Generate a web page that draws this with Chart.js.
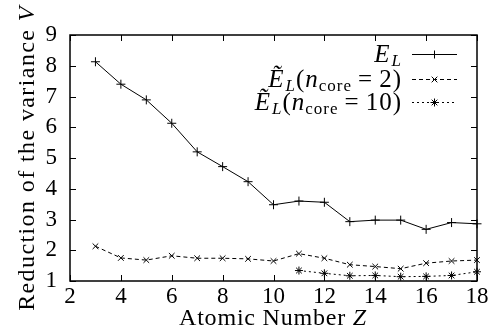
<!DOCTYPE html>
<html>
<head>
<meta charset="utf-8">
<script src="https://cdn.jsdelivr.net/npm/chart.js@4/dist/chart.umd.min.js"></script>
<style>
html,body{margin:0;padding:0;background:#fff;}
#wrap{width:494px;height:330px;position:relative;}
</style>
</head>
<body>
<div id="wrap"><canvas id="c" width="494" height="330"></canvas></div>
<script>
// ---- data ----
const zAll = [3, 4, 5, 6, 7, 8, 9, 10, 11, 12, 13, 14, 15, 16, 17, 18];
const varEL = [8.13, 7.4, 6.89, 6.13, 5.2, 4.72, 4.23, 3.48, 3.6, 3.56, 2.93, 2.98, 2.98, 2.68, 2.9, 2.86];
const varCore2 = [2.13, 1.75, 1.68, 1.82, 1.74, 1.74, 1.72, 1.65, 1.89, 1.74, 1.53, 1.47, 1.4, 1.58, 1.65, 1.68];
const zCore10 = [11, 12, 13, 14, 15, 16, 17, 18];
const varCore10 = [1.34, 1.25, 1.17, 1.18, 1.14, 1.15, 1.18, 1.3];
const xTicks = [2, 4, 6, 8, 10, 12, 14, 16, 18];
const yTicks = [1, 2, 3, 4, 5, 6, 7, 8, 9];

const FONT = '"Liberation Serif", "DejaVu Serif", serif';
const FS = 23;     // tick labels
const TS = 24;     // titles
const LS = 25;     // legend
const SS = 17;     // subscripts

function setFont(ctx, p) {
  ctx.font = (p.it ? 'italic ' : '') + (p.sz || TS) + 'px ' + FONT;
}
function richWidth(ctx, parts, ls) {
  let w = 0;
  for (const p of parts) {
    setFont(ctx, p);
    w += ctx.measureText(p.t).width + p.t.length * ls + (p.gap || 0);
  }
  return w;
}
function drawRich(ctx, parts, x, y, align, ls) {
  ls = ls || 0;
  const w = richWidth(ctx, parts, ls);
  let cx = align === 'right' ? x - w : align === 'center' ? x - w / 2 : x;
  ctx.textBaseline = 'alphabetic';
  ctx.textAlign = 'left';
  for (const p of parts) {
    setFont(ctx, p);
    for (const ch of p.t) {
      ctx.fillText(ch, cx, y + (p.dy || 0));
      cx += ctx.measureText(ch).width + ls;
    }
    cx += (p.gap || 0);
  }
}

const framePlugin = {
  id: 'frame',
  afterDraw(chart) {
    const ctx = chart.ctx, a = chart.chartArea;
    const xs = chart.scales.x, ys = chart.scales.y;
    ctx.save();
    ctx.strokeStyle = '#000';
    ctx.fillStyle = '#000';
    ctx.lineWidth = 1.5;
    ctx.strokeRect(a.left, a.top, a.right - a.left, a.bottom - a.top);
    ctx.lineWidth = 1;
    const L = 6;
    ctx.beginPath();
    for (const v of xTicks) {
      const px = Math.round(xs.getPixelForValue(v)) + 0.5;
      ctx.moveTo(px, a.bottom); ctx.lineTo(px, a.bottom - L);
      ctx.moveTo(px, a.top); ctx.lineTo(px, a.top + L);
    }
    for (const v of yTicks) {
      const py = Math.round(ys.getPixelForValue(v)) + 0.5;
      ctx.moveTo(a.left, py); ctx.lineTo(a.left + L, py);
      ctx.moveTo(a.right, py); ctx.lineTo(a.right - L, py);
    }
    ctx.stroke();

    // axis titles
    drawRich(ctx, [{ t: 'Atomic Number ' }, { t: 'Z', it: true }], 273, 325, 'center', 0.8);
    ctx.save();
    ctx.translate(34, 158);
    ctx.rotate(-Math.PI / 2);
    drawRich(ctx, [{ t: 'Reduction of the variance ' }, { t: 'V', it: true }], 0, 0, 'center', 1.4);
    ctx.restore();

    // legend
    const tx = 402, lx0 = 412, lx1 = 457;
    const rows = [
      { y: 54, parts: [{ t: 'E', it: true, sz: LS, gap: 1 }, { t: 'L', it: true, sz: SS, dy: 4 }], ds: 0 },
      { y: 79, parts: [{ t: 'Ẽ', it: true, sz: LS, gap: 1 }, { t: 'L', it: true, sz: SS, dy: 4 }, { t: '(', sz: LS }, { t: 'n', it: true, sz: LS }, { t: 'core', sz: SS, dy: 4, gap: 6 }, { t: '=', sz: LS, gap: 6 }, { t: '2)', sz: LS }], ds: 1 },
      { y: 102, parts: [{ t: 'Ẽ', it: true, sz: LS, gap: 1 }, { t: 'L', it: true, sz: SS, dy: 4 }, { t: '(', sz: LS }, { t: 'n', it: true, sz: LS }, { t: 'core', sz: SS, dy: 4, gap: 6 }, { t: '=', sz: LS, gap: 6 }, { t: '10)', sz: LS }], ds: 2 }
    ];
    for (const r of rows) {
      drawRich(ctx, r.parts, tx, r.y + 8, 'right', 1.0);
      const ds = chart.data.datasets[r.ds];
      ctx.save();
      ctx.lineWidth = 1;
      ctx.setLineDash(ds.borderDash || []);
      ctx.beginPath();
      ctx.moveTo(lx0, r.y + 0.5); ctx.lineTo(lx1, r.y + 0.5);
      ctx.stroke();
      ctx.restore();
      Chart.helpers.drawPoint(ctx, { pointStyle: ds.pointStyle, radius: 4, borderWidth: 1 }, (lx0 + lx1) / 2, r.y + 0.5);
    }
    ctx.restore();
  }
};

function pts(xs, ys) { return xs.map((x, i) => ({ x: x, y: ys[i] })); }

new Chart(document.getElementById('c'), {
  type: 'line',
  data: {
    datasets: [
      { label: 'E_L', data: pts(zAll, varEL), borderColor: '#000', backgroundColor: '#000', borderWidth: 1,
        pointStyle: 'cross', pointRadius: 4.5, pointBorderWidth: 1, pointBorderColor: '#000', clip: false },
      { label: 'core2', data: pts(zAll, varCore2), borderColor: '#000', backgroundColor: '#000', borderWidth: 1,
        borderDash: [4, 3], pointStyle: 'crossRot', pointRadius: 4, pointBorderWidth: 1, pointBorderColor: '#000', clip: false },
      { label: 'core10', data: pts(zCore10, varCore10), borderColor: '#000', backgroundColor: '#000', borderWidth: 1,
        borderDash: [2, 3], pointStyle: 'star', pointRadius: 4, pointBorderWidth: 1, pointBorderColor: '#000', clip: false }
    ]
  },
  options: {
    responsive: false,
    animation: false,
    layout: { padding: { top: 35, right: 17, left: 0, bottom: 0 } },
    plugins: { legend: { display: false }, tooltip: { enabled: false } },
    scales: {
      x: {
        type: 'linear', min: 2, max: 18,
        afterBuildTicks(s) { s.ticks = xTicks.map(v => ({ value: v })); },
        afterFit(s) { s.height = 49; },
        grid: { display: false, drawTicks: false }, border: { display: false },
        ticks: { color: '#000', font: { family: FONT, size: FS }, padding: 2, maxRotation: 0 }
      },
      y: {
        type: 'linear', min: 1, max: 9,
        afterBuildTicks(s) { s.ticks = yTicks.map(v => ({ value: v })); },
        afterFit(s) { s.width = 70; },
        grid: { display: false, drawTicks: false }, border: { display: false },
        ticks: { color: '#000', font: { family: FONT, size: FS }, padding: 13 }
      }
    }
  },
  plugins: [framePlugin]
});
</script>
</body>
</html>
